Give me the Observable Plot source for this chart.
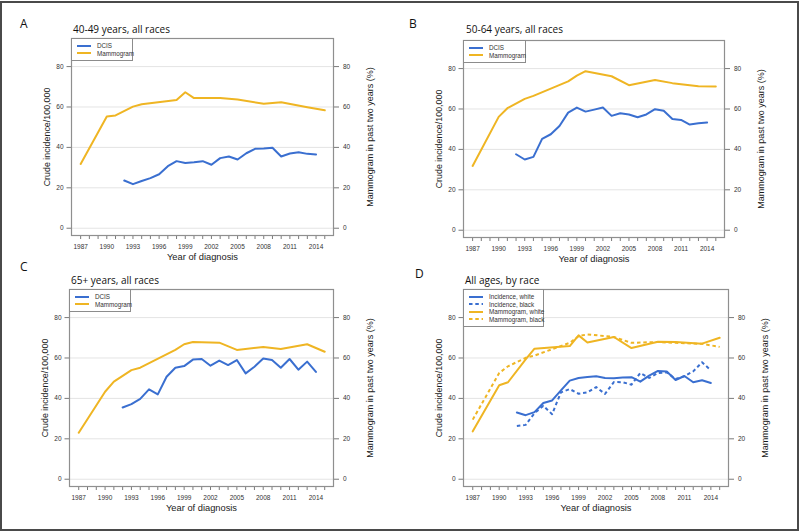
<!DOCTYPE html>
<html>
<head>
<meta charset="utf-8">
<script src="https://cdn.jsdelivr.net/npm/d3@7"></script>
<script src="https://cdn.jsdelivr.net/npm/@observablehq/plot@0.6"></script>
<style>
  html, body { margin: 0; padding: 0; background: #fff; }
  #fig { position: relative; width: 800px; height: 532px; overflow: hidden; background: #fff;
         font-family: "Liberation Sans", Arial, sans-serif; }
  #border { position: absolute; left: 0; top: 1px; width: 799px; height: 530px; box-sizing: border-box;
            border: 2px solid #4a4a4a; pointer-events: none; }
  .panel { position: absolute; }
  .letter { position: absolute; font-family: "Open Sans", sans-serif; font-size: 12px; line-height: 12px; color: #111; }
  .title { position: absolute; font-family: "Open Sans", sans-serif; font-size: 10px; line-height: 10px; color: #111; white-space: nowrap; }
  .legend { position: absolute; box-sizing: border-box; border: 1px solid #8c8c8c; background: #fff;
            font-family: "Liberation Sans", Arial, sans-serif; font-size: 6.3px; color: #333; padding: 3px 5px 3px 5px; }
  .legend .item { display: flex; align-items: center; height: 7.5px; white-space: nowrap; }
  .legend svg { margin-right: 6px; flex: none; }
</style>
</head>
<body>
<div id="fig"></div>
<script>
// ---------------- data ----------------
const dcisYears = [1992,1993,1994,1995,1996,1997,1998,1999,2000,2001,2002,2003,2004,2005,2006,2007,2008,2009,2010,2011,2012,2013,2014];
const mammoYears = [1987,1990,1991,1993,1994,1998,1999,2000,2003,2005,2008,2010,2013,2015];

const dcisA = [23.6,21.8,23.4,24.8,26.7,30.7,33.2,32.3,32.7,33.2,31.4,34.7,35.5,34.0,37.1,39.3,39.4,39.8,35.5,37.0,37.6,36.8,36.5];
const mammoA = [31.8,55.3,55.8,60.2,61.4,63.5,67.3,64.4,64.5,63.7,61.6,62.4,59.9,58.4];

const dcisB = [37.6,35.0,36.3,45.2,47.5,51.6,58.2,60.7,58.7,59.7,60.7,56.6,57.9,57.3,55.9,57.3,59.9,59.1,55.0,54.6,52.3,52.9,53.3];
const mammoB = [31.8,56.1,60.4,65.0,66.5,73.7,76.5,78.7,76.2,71.8,74.3,72.8,71.3,71.1];

const dcisC = [35.5,37.2,39.8,44.5,42.0,50.7,55.2,56.0,59.2,59.5,56.2,58.7,56.5,59.0,52.4,55.7,59.7,59.0,55.2,59.5,54.2,58.2,53.1];
const mammoC = [23.0,43.3,48.3,54.0,55.2,64.0,66.8,67.9,67.6,64.0,65.5,64.5,66.8,63.1];

const incWhiteD = [33.0,31.7,33.2,37.7,39.0,44.0,48.8,50.1,50.6,51.0,50.1,50.0,50.3,50.5,48.3,51.3,53.6,53.3,49.1,51.1,48.0,49.0,47.6];
const incBlackD = [26.4,26.9,32.7,36.3,32.2,43.0,44.6,42.3,43.0,45.6,42.2,48.1,48.0,46.8,52.6,50.1,52.6,52.9,49.6,51.0,53.4,57.9,53.9];
const mammoWhiteD = [23.7,46.5,48.0,59.3,64.6,65.9,71.2,67.7,70.4,64.9,68.0,67.9,67.1,70.0];
const mammoBlackD = [29.5,52.6,55.9,60.1,61.2,67.5,70.8,71.7,70.4,67.5,67.9,67.5,67.0,65.5];

const yTicks = [0, 20, 40, 60, 80];
const xTicks = [1987,1988,1989,1990,1991,1992,1993,1994,1995,1996,1997,1998,1999,2000,2001,2002,2003,2004,2005,2006,2007,2008,2009,2010,2011,2012,2013,2014,2015];
const xLabels = [1987,1990,1993,1996,1999,2002,2005,2008,2011,2014];

const yLabel = "Crude incidence/100,000";
const y2Label = "Mammogram in past two years (%)";
const xLabel = "Year of diagnosis";

// ---------------- styling ----------------
const BLUE = "#3a6fd0";
const GOLD = "#efb523";
const DASH = "3.5,2.8";

const panels = [
  { letter: "A", title: "40-49 years, all races", frame: [71, 38, 333, 235], letterPos: [20, 18], titlePos: [73, 24], legendW: 62,
    series: [
      { name: "DCIS", x: dcisYears, y: dcisA, color: BLUE, dash: null },
      { name: "Mammogram", x: mammoYears, y: mammoA, color: GOLD, dash: null } ] },
  { letter: "B", title: "50-64 years, all races", frame: [463, 40, 724, 237], letterPos: [409, 18], titlePos: [466, 24], legendW: 63,
    series: [
      { name: "DCIS", x: dcisYears, y: dcisB, color: BLUE, dash: null },
      { name: "Mammogram", x: mammoYears, y: mammoB, color: GOLD, dash: null } ] },
  { letter: "C", title: "65+ years, all races", frame: [69, 289, 333, 486], letterPos: [20, 261], titlePos: [71, 275], legendW: 62,
    series: [
      { name: "DCIS", x: dcisYears, y: dcisC, color: BLUE, dash: null },
      { name: "Mammogram", x: mammoYears, y: mammoC, color: GOLD, dash: null } ] },
  { letter: "D", title: "All ages, by race", frame: [463, 289, 728, 486], letterPos: [415, 268], titlePos: [465, 275], legendW: 81,
    series: [
      { name: "Incidence, white", x: dcisYears, y: incWhiteD, color: BLUE, dash: null },
      { name: "Incidence, black", x: dcisYears, y: incBlackD, color: BLUE, dash: DASH },
      { name: "Mammogram, white", x: mammoYears, y: mammoWhiteD, color: GOLD, dash: null },
      { name: "Mammogram, black", x: mammoYears, y: mammoBlackD, color: GOLD, dash: DASH } ] }
];

const fig = document.getElementById("fig");
const mL = 71, mR = 67, mT = 38, mB = 31;
const tickColor = "#7a7a7a";
const textColor = "#333";

for (const p of panels) {
  const [fl, ft, fr, fb] = p.frame;
  const width = fr - fl + mL + mR;
  const height = fb - ft + mT + mB;

  const lineMarks = p.series.map(s => {
    const rows = s.x.map((yr, i) => ({ year: yr, value: s.y[i] }));
    return Plot.line(rows, { x: "year", y: "value", stroke: s.color, strokeWidth: 2,
      strokeDasharray: s.dash || undefined, strokeLinejoin: "round", strokeLinecap: s.dash ? "butt" : "round" });
  });

  const chart = Plot.plot({
    width, height,
    marginLeft: mL, marginRight: mR, marginTop: mT, marginBottom: mB,
    style: { fontFamily: "'Liberation Sans', Arial, sans-serif", background: "transparent", overflow: "visible" },
    x: { domain: [1985.95, 2016] },
    y: { domain: [-3.6, 93.9] },
    marks: [
      Plot.gridY(yTicks, { stroke: "#e4e4e4", strokeOpacity: 1, strokeWidth: 1 }),
      Plot.axisY(yTicks, { anchor: "left", tickSize: 4.5, tickPadding: 3.5, fontSize: 6.5, stroke: tickColor, fill: textColor, label: null }),
      Plot.axisY(yTicks, { anchor: "right", tickSize: 5, tickPadding: 4.5, fontSize: 6.5, stroke: tickColor, fill: textColor, label: null }),
      Plot.axisX(xTicks, { anchor: "bottom", tickSize: 4, tickPadding: 4.5, fontSize: 6.5, stroke: tickColor, fill: textColor, label: null,
        tickFormat: d => xLabels.includes(d) ? String(d) : "" }),
      ...lineMarks,
      Plot.frame({ stroke: "#8f8f8f", strokeWidth: 1.2 }),
      Plot.text([yLabel], { frameAnchor: "left", text: d => d, rotate: -90, dx: -24, textAnchor: "middle", lineAnchor: "middle", fontSize: 8.9, fill: "#1a1a1a" }),
      Plot.text([y2Label], { frameAnchor: "right", text: d => d, rotate: -90, dx: 37, textAnchor: "middle", lineAnchor: "middle", fontSize: 9, fill: "#1a1a1a" }),
      Plot.text([xLabel], { frameAnchor: "bottom", text: d => d, dy: 22, textAnchor: "middle", lineAnchor: "middle", fontSize: 9.3, fill: "#1a1a1a" })
    ]
  });

  const wrap = document.createElement("div");
  wrap.className = "panel";
  wrap.style.left = (fl - mL) + "px";
  wrap.style.top = (ft - mT) + "px";
  wrap.appendChild(chart);
  fig.appendChild(wrap);

  // legend
  const lg = document.createElement("div");
  lg.className = "legend";
  lg.style.left = fl + "px";
  lg.style.top = ft + "px";
  lg.style.width = p.legendW + "px";
  for (const s of p.series) {
    const it = document.createElement("div");
    it.className = "item";
    it.innerHTML = `<svg width="14" height="4"><line x1="0" y1="2" x2="14" y2="2" stroke="${s.color}" stroke-width="2" ${s.dash ? `stroke-dasharray="${s.dash}"` : ""}/></svg><span>${s.name}</span>`;
    lg.appendChild(it);
  }
  fig.appendChild(lg);

  const le = document.createElement("div");
  le.className = "letter";
  le.textContent = p.letter;
  le.style.left = p.letterPos[0] + "px";
  le.style.top = p.letterPos[1] + "px";
  fig.appendChild(le);

  const ti = document.createElement("div");
  ti.className = "title";
  ti.textContent = p.title;
  ti.style.left = p.titlePos[0] + "px";
  ti.style.top = p.titlePos[1] + "px";
  fig.appendChild(ti);
}

const border = document.createElement("div");
border.id = "border";
fig.appendChild(border);
</script>
</body>
</html>
